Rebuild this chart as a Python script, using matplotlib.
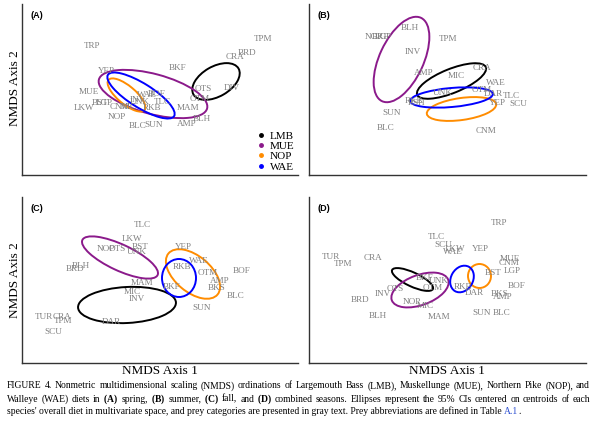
import matplotlib
matplotlib.use("Agg")
import matplotlib.pyplot as plt
from matplotlib.patches import Ellipse
from matplotlib.lines import Line2D

plt.rcParams['font.family'] = ['Liberation Serif', 'DejaVu Serif']
plt.rcParams['mathtext.fontset'] = 'custom'
plt.rcParams['mathtext.rm'] = 'Liberation Serif'
plt.rcParams['mathtext.bf'] = 'Liberation Serif:bold'

species = ["LMB", "MUE", "NOP", "WAE"]
species_colors = ["#000000", "#8B1A8B", "#FF8C00", "#0000FF"]

# ---- Panel A (spring) prey scores ----
a_prey = ["TRP", "TPM", "CRA", "BRD", "BKF", "YEP", "DIV", "OTS", "OTM", "MUE",
          "LKW", "BST", "LGP", "CNM", "NOP", "BLC", "SUN", "AMP", "BLH", "MAM",
          "WAE", "BOF", "TLC", "RKB", "UNK", "MIC", "INV"]
a_x = [-0.68, 1.03, 0.75, 0.87, 0.18, -0.54, 0.72, 0.43, 0.40, -0.71,
       -0.76, -0.60, -0.56, -0.40, -0.43, -0.22, -0.06, 0.27, 0.42, 0.28,
       -0.13, -0.03, 0.02, -0.08, -0.20, -0.32, -0.22]
a_y = [0.435, 0.505, 0.325, 0.365, 0.215, 0.185, 0.015, 0.005, -0.095, -0.025,
       -0.185, -0.135, -0.135, -0.175, -0.275, -0.365, -0.355, -0.345, -0.295, -0.185,
       -0.055, -0.045, -0.125, -0.185, -0.125, -0.175, -0.105]
# ellipses: LMB, MUE, NOP, WAE
a_ecx = [0.56, -0.07, -0.335, -0.19]
a_ecy = [0.08, -0.045, -0.055, -0.06]
a_ew = [0.52, 1.12, 0.47, 0.78]
a_eh = [0.30, 0.40, 0.18, 0.24]
a_ea = [30, -15, -40, -32]

# ---- Panel B (summer) ----
b_prey = ["NOP", "BKF", "LGP", "BLH", "TPM", "INV", "AMP", "MIC", "CRA", "WAE",
          "UNK", "OTM", "DAR", "TLC", "YEP", "SCU", "RSH", "RKB", "SUN", "BLC", "CNM"]
b_x = [-0.735, -0.665, -0.645, -0.375, 0.005, -0.345, -0.235, 0.085, 0.345, 0.485,
       -0.045, 0.345, 0.455, 0.635, 0.495, 0.705, -0.305, -0.335, -0.555, -0.615, 0.385]
b_y = [0.525, 0.525, 0.525, 0.615, 0.505, 0.375, 0.165, 0.135, 0.215, 0.065,
       -0.035, -0.005, -0.045, -0.065, -0.135, -0.145, -0.135, -0.115, -0.235, -0.385, -0.415]
b_ecx = [0.04, -0.46, 0.14, 0.04]
b_ecy = [0.085, 0.30, -0.195, -0.08]
b_ew = [0.74, 0.92, 0.70, 0.83]
b_eh = [0.24, 0.44, 0.22, 0.19]
b_ea = [22, 65, 8, 5]

# ---- Panel C (fall) ----
c_prey = ["TLC", "LKW", "NOP", "OTS", "BST", "UNK", "YEP", "BLH", "BRD", "WAE",
          "RKB", "OTM", "BOF", "AMP", "MAM", "BKF", "BKS", "MIC", "BLC", "INV",
          "SUN", "TUR", "CRA", "TPM", "DAR", "SCU"]
c_x = [-0.18, -0.28, -0.54, -0.43, -0.20, -0.23, 0.23, -0.79, -0.85, 0.39,
       0.22, 0.48, 0.82, 0.60, -0.18, 0.12, 0.57, -0.28, 0.76, -0.23,
       0.42, -1.16, -0.98, -0.97, -0.49, -1.07]
c_y = [0.55, 0.41, 0.31, 0.31, 0.33, 0.28, 0.33, 0.14, 0.11, 0.19,
       0.13, 0.07, 0.09, -0.01, -0.03, -0.07, -0.08, -0.12, -0.16, -0.19,
       -0.28, -0.37, -0.37, -0.41, -0.42, -0.52]
c_ecx = [-0.33, -0.40, 0.33, 0.19]
c_ecy = [-0.25, 0.225, 0.06, 0.02]
c_ew = [0.98, 0.83, 0.64, 0.34]
c_eh = [0.36, 0.26, 0.36, 0.38]
c_ea = [3, -25, -40, 0]

# ---- Panel D (combined) ----
d_prey = ["TRP", "TLC", "SCU", "LKW", "WAE", "YEP", "TUR", "TPM", "CRA", "MUE",
          "CNM", "BST", "LGP", "BKF", "UNK", "BOF", "OTS", "INV", "OTM", "RKB",
          "DAR", "BKS", "AMP", "BRD", "NOP", "MIC", "BLH", "MAM", "SUN", "BLC"]
d_x = [0.515, -0.115, -0.045, 0.075, 0.055, 0.325, -1.165, -1.045, -0.745, 0.625,
       0.615, 0.455, 0.645, -0.225, -0.085, 0.695, -0.525, -0.645, -0.145, 0.155,
       0.265, 0.525, 0.555, -0.875, -0.355, -0.225, -0.695, -0.085, 0.345, 0.545]
d_y = [0.57, 0.43, 0.35, 0.31, 0.28, 0.31, 0.23, 0.16, 0.22, 0.21,
       0.17, 0.07, 0.09, 0.02, -0.01, -0.06, -0.09, -0.14, -0.08, -0.07,
       -0.13, -0.14, -0.17, -0.20, -0.22, -0.26, -0.36, -0.37, -0.33, -0.33]
d_ecx = [-0.35, -0.275, 0.32, 0.145]
d_ecy = [0.005, -0.10, 0.04, 0.01]
d_ew = [0.45, 0.60, 0.23, 0.28]
d_eh = [0.14, 0.30, 0.24, 0.22]
d_ea = [-25, 20, 0, 60]

panels = [
    ("(A)", a_prey, a_x, a_y, a_ecx, a_ecy, a_ew, a_eh, a_ea),
    ("(B)", b_prey, b_x, b_y, b_ecx, b_ecy, b_ew, b_eh, b_ea),
    ("(C)", c_prey, c_x, c_y, c_ecx, c_ecy, c_ew, c_eh, c_ea),
    ("(D)", d_prey, d_x, d_y, d_ecx, d_ecy, d_ew, d_eh, d_ea),
]

W, H = 600, 432
fig = plt.figure(figsize=(6.0, 4.32), dpi=100)

boxes = [(22, 4, 298, 175), (309, 4, 586, 175), (22, 197, 298, 363), (309, 197, 586, 363)]

axes = []
for (l, t, r, b), p in zip(boxes, panels):
    ax = fig.add_axes([l / W, 1 - b / H, (r - l) / W, (b - t) / H])
    hw = (r - l) / 200.0
    hh = (b - t) / 200.0
    ax.set_xlim(-hw, hw)
    ax.set_ylim(-hh, hh)
    for s in ["top", "right"]:
        ax.spines[s].set_visible(False)
    for s in ["left", "bottom"]:
        ax.spines[s].set_linewidth(1.0)
        ax.spines[s].set_color("#333333")
    ax.set_xticks([])
    ax.set_yticks([])
    tag, prey, px, py, ecx, ecy, ew, eh, ea = p
    ax.text(0.03, 0.93, tag, transform=ax.transAxes, fontsize=6.5,
            fontweight="bold", family="Liberation Sans", ha="left", va="center")
    for name, x, y in zip(prey, px, py):
        ax.text(x, y, name, color="#808080", fontsize=6.6, ha="center", va="center")
    for i in range(4):
        e = Ellipse((ecx[i], ecy[i]), ew[i], eh[i], angle=ea[i], fill=False,
                    edgecolor=species_colors[i], linewidth=1.4)
        ax.add_patch(e)
    axes.append(ax)

# legend in panel A
handles = [Line2D([0], [0], marker='o', color='none', markerfacecolor=c,
                  markeredgecolor=c, markersize=2.5) for c in species_colors]
axes[0].legend(handles, species, loc="lower right", frameon=False, fontsize=8,
               handlelength=0.6, handletextpad=0.5, labelspacing=0.05,
               borderaxespad=0.1, borderpad=0.2)

fig.text(15 / W, 1 - 88 / H, "NMDS Axis 2", rotation=90, fontsize=9.5, ha="center", va="center")
fig.text(15 / W, 1 - 280 / H, "NMDS Axis 2", rotation=90, fontsize=9.5, ha="center", va="center")
fig.text(160 / W, 1 - 371 / H, "NMDS Axis 1", fontsize=9.5, ha="center", va="center")
fig.text(447 / W, 1 - 371 / H, "NMDS Axis 1", fontsize=9.5, ha="center", va="center")

cap_fs = 6.9
line1 = ("FIGURE\u20094.  Nonmetric multidimensional scaling (NMDS) ordinations of Largemouth Bass (LMB), "
         "Muskellunge (MUE), Northern Pike (NOP), and")
line2 = (r"Walleye (WAE) diets in $\mathbf{(A)}$ spring, $\mathbf{(B)}$ summer, $\mathbf{(C)}$ fall, "
         r"and $\mathbf{(D)}$ combined seasons. Ellipses represent the 95% CIs centered on centroids of each")
line3 = ("species' overall diet in multivariate space, and prey categories are presented in gray text. "
         "Prey abbreviations are defined in Table ")

renderer = fig.canvas.get_renderer()


def justified(line, ypix, x0=7, x1=590):
    words = line.replace("\u2009", " ").split()
    objs = [fig.text(0, 1 - ypix / H, w, fontsize=cap_fs, ha="left", va="center") for w in words]
    widths = [o.get_window_extent(renderer=renderer).width for o in objs]
    gap = (x1 - x0 - sum(widths)) / (len(words) - 1)
    x = x0
    for o, w in zip(objs, widths):
        o.set_x(x / W)
        x += w + gap


justified(line1, 386)
justified(line2, 399)
t3 = fig.text(7 / W, 1 - 411 / H, line3, fontsize=cap_fs, ha="left", va="center")
bb = t3.get_window_extent(renderer=renderer)
t4 = fig.text(bb.x1 / W, 1 - 411 / H, "A.1", fontsize=cap_fs, ha="left", va="center", color="#2a4dd0")
bb4 = t4.get_window_extent(renderer=renderer)
fig.text(bb4.x1 / W, 1 - 411 / H, ".", fontsize=cap_fs, ha="left", va="center")

fig.savefig("out.png", dpi=100)
